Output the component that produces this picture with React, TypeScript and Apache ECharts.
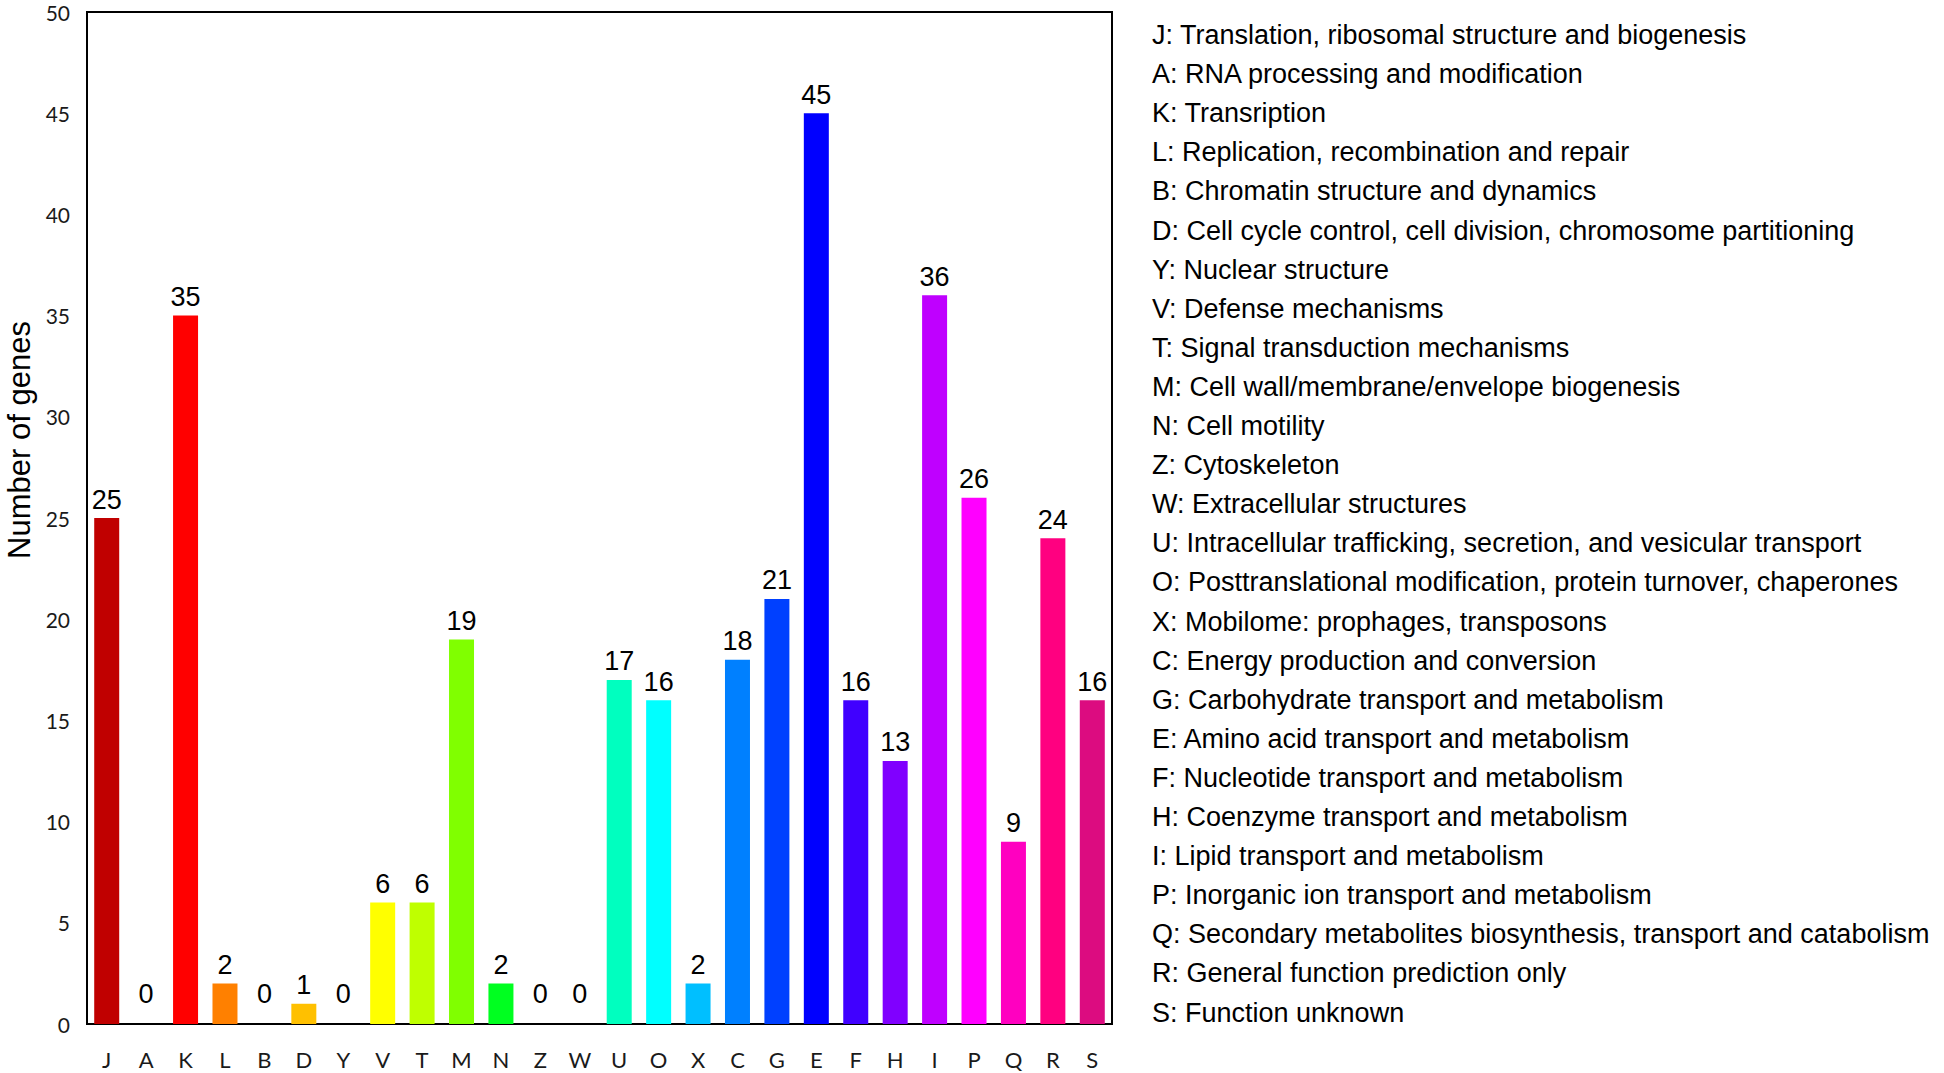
import React, { useEffect, useRef } from "react";
import * as echarts from "echarts";

const categories = ["J", "A", "K", "L", "B", "D", "Y", "V", "T", "M", "N", "Z", "W", "U", "O", "X", "C", "G", "E", "F", "H", "I", "P", "Q", "R", "S"];
const geneCounts = [25, 0, 35, 2, 0, 1, 0, 6, 6, 19, 2, 0, 0, 17, 16, 2, 18, 21, 45, 16, 13, 36, 26, 9, 24, 16];
const barColors = [
  "#C00000", "#E00000", "#FF0000", "#FF8000", "#FFA000", "#FFC000", "#FFE000", "#FFFF00", "#BFFF00", "#80FF00",
  "#00FF20", "#00FF60", "#00FF9F", "#00FFBF", "#00FFFF", "#00BFFF", "#0080FF", "#0040FF", "#0000FF", "#4000FF",
  "#8000FF", "#BF00FF", "#FF00FF", "#FF00C0", "#FF0080", "#DC0C80",
];
const descriptions = [
  "Translation, ribosomal structure and biogenesis",
  "RNA processing and modification",
  "Transription",
  "Replication, recombination and repair",
  "Chromatin structure and dynamics",
  "Cell cycle control, cell division, chromosome partitioning",
  "Nuclear structure",
  "Defense mechanisms",
  "Signal transduction mechanisms",
  "Cell wall/membrane/envelope biogenesis",
  "Cell motility",
  "Cytoskeleton",
  "Extracellular structures",
  "Intracellular trafficking, secretion, and vesicular transport",
  "Posttranslational modification, protein turnover, chaperones",
  "Mobilome: prophages, transposons",
  "Energy production and conversion",
  "Carbohydrate transport and metabolism",
  "Amino acid transport and metabolism",
  "Nucleotide transport and metabolism",
  "Coenzyme transport and metabolism",
  "Lipid transport and metabolism",
  "Inorganic ion transport and metabolism",
  "Secondary metabolites biosynthesis, transport and catabolism",
  "General function prediction only",
  "Function unknown",
];
const yAxisTitle = "Number of genes";
const yMin = 0;
const yMax = 50;
const yStep = 5;

const ARIAL = "'Liberation Sans', Arial, sans-serif";
const TICKFONT = "Lato, 'Open Sans', sans-serif";

export default function App() {
  const ref = useRef<HTMLDivElement>(null);

  useEffect(() => {
    document.body.style.margin = "0";
    if (!ref.current) return;
    const chart = echarts.init(ref.current, undefined, { renderer: "svg" });

    const legendItems = categories.map((c, i) => ({
      type: "text",
      x: 1152,
      y: 35 + i * 39.1,
      style: {
        text: `${c}: ${descriptions[i]}`,
        fontFamily: ARIAL,
        fontSize: 27,
        fill: "#000",
        textAlign: "left",
        textVerticalAlign: "middle",
      },
    }));

    chart.setOption({
      animation: false,
      backgroundColor: "#fff",
      grid: {
        left: 87,
        top: 12,
        width: 1025,
        height: 1012,
        show: true,
        borderColor: "#000",
        borderWidth: 2,
        containLabel: false,
      },
      xAxis: {
        type: "category",
        data: categories,
        axisLine: { show: true, lineStyle: { color: "#000", width: 2 } },
        axisTick: { show: false },
        axisLabel: { fontFamily: TICKFONT, fontSize: 22, color: "#1a1a1a", margin: 24, interval: 0 },
      },
      yAxis: {
        type: "value",
        min: yMin,
        max: yMax,
        interval: yStep,
        axisLine: { show: true, lineStyle: { color: "#000", width: 2 } },
        axisTick: { show: false },
        splitLine: { show: false },
        axisLabel: { fontFamily: TICKFONT, fontSize: 21, color: "#1a1a1a", margin: 17 },
      },
      series: [
        {
          type: "bar",
          barWidth: 25,
          data: geneCounts.map((v, i) => ({
            value: v,
            itemStyle: { color: barColors[i] },
            label: { distance: v === 0 ? 17 : 5 },
          })),
          label: {
            show: true,
            position: "top",
            distance: 5,
            fontFamily: ARIAL,
            fontSize: 27,
            color: "#000",
          },
        },
      ],
      graphic: [
        {
          type: "text",
          x: 19,
          y: 440,
          rotation: Math.PI / 2,
          style: {
            text: yAxisTitle,
            fontFamily: ARIAL,
            fontSize: 31,
            fill: "#000",
            textAlign: "center",
            textVerticalAlign: "middle",
          },
        },
        ...legendItems,
      ],
    });

    return () => chart.dispose();
  }, []);

  return <div ref={ref} style={{ width: 1944, height: 1073 }} />;
}
